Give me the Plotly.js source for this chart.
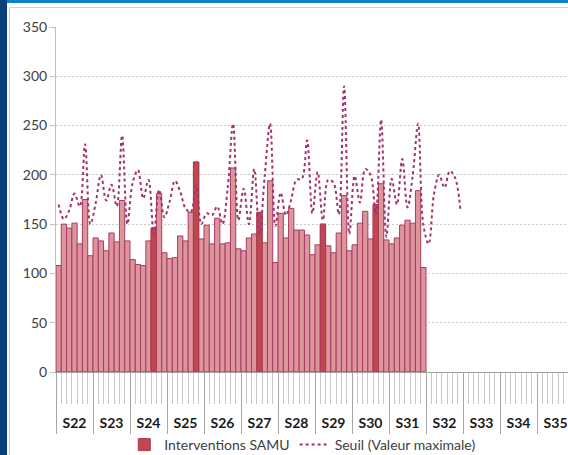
<!DOCTYPE html>
<html>
<head>
<meta charset="utf-8">
<script src="https://cdn.plot.ly/plotly-3.0.1.min.js"></script>
<style>
  body { margin: 0; background: #ffffff; }
  #cadre { position: relative; width: 568px; height: 455px; overflow: hidden; background: #ffffff; }
  #bandeGauche { position: absolute; left: 0; top: 0; width: 7px; height: 455px; background: #0b3f7c; }
  #bandeHaut { position: absolute; left: 7px; top: 0; width: 561px; height: 3px; background: #0a84c9; }
  #bordV { position: absolute; left: 9px; top: 7px; width: 1px; height: 448px; background: #c9c9c9; }
  #bordH { position: absolute; left: 9px; top: 7px; width: 559px; height: 1px; background: #d0d0d0; }
  #graphique { position: absolute; left: 0; top: 0; width: 568px; height: 455px; }
</style>
</head>
<body>
<div id="cadre">
  <div id="bandeGauche"></div>
  <div id="bandeHaut"></div>
  <div id="bordV"></div>
  <div id="bordH"></div>
  <div id="graphique"></div>
</div>
<script>
// semaines affichées sur l'axe (7 jours chacune)
const semaines = ['S22', 'S23', 'S24', 'S25', 'S26', 'S27', 'S28', 'S29', 'S30', 'S31', 'S32', 'S33', 'S34', 'S35'];

// interventions SAMU par jour, S22 à S31
const interventions = [
    108, 150, 146, 151, 130, 175, 118,
    136, 133, 123, 141, 132, 174, 133,
    114, 109, 108, 133, 146, 181, 121,
    115, 116, 138, 133, 162, 213, 135,
    149, 130, 156, 130, 131, 207, 125,
    123, 136, 140, 162, 131, 194, 111,
    161, 136, 166, 144, 144, 139, 119,
    129, 150, 128, 121, 141, 179, 123,
    129, 151, 163, 135, 170, 191, 134,
    130, 136, 149, 154, 151, 184, 106
];

// jours mis en évidence (numéro du jour, 1 = premier jour de S22)
const joursAlerte = [19, 27, 39, 51, 61];

// seuil (valeur maximale) par jour, S22 à S32
const seuil = [
    170, 155, 164, 181, 168, 231, 150,
    171, 200, 174, 190, 168, 240, 150,
    192, 205, 176, 195, 140, 185, 157,
    173, 194, 183, 166, 162, 189, 150,
    161, 159, 168, 150, 188, 252, 154,
    186, 150, 206, 140, 200, 252, 148,
    182, 159, 175, 195, 196, 235, 161,
    203, 154, 195, 192, 160, 290, 140,
    199, 172, 206, 200, 160, 256, 137,
    196, 170, 216, 167, 200, 252, 149,
    130, 180, 200, 187, 204, 197, 165
];

const joursBarres = interventions.map((v, i) => i);
const joursSeuil = seuil.map((v, i) => i);
const centresSemaines = semaines.map((s, i) => i * 7 + 3);

const barresClaires = {
    x: joursBarres,
    y: interventions,
    type: 'bar',
    showlegend: false,
    hoverinfo: 'skip',
    marker: { color: '#dc969b', line: { color: '#a83a63', width: 1 } }
};

const barresFoncees = {
    x: joursBarres,
    y: interventions.map((v, i) => joursAlerte.includes(i + 1) ? v : null),
    type: 'bar',
    name: 'Interventions SAMU',
    marker: { color: '#c0474e', line: { color: '#a83a55', width: 1 } }
};

// le seuil est porté par l'axe x2 (même échelle) pour afficher les libellés de semaines
const ligneSeuil = {
    x: joursSeuil,
    y: seuil,
    xaxis: 'x2',
    type: 'scatter',
    mode: 'lines',
    name: 'Seuil (Valeur maximale)',
    line: { color: '#a3336b', width: 2, dash: '3px,3px', shape: 'spline', smoothing: 1 }
};

const police = 'Lato, "Open Sans", sans-serif';
const finAxe = -0.5 + 512 / 5.286;

const layout = {
    width: 568,
    height: 455,
    margin: { l: 56, r: 0, t: 27, b: 83 },
    paper_bgcolor: 'rgba(0,0,0,0)',
    plot_bgcolor: 'rgba(0,0,0,0)',
    barmode: 'overlay',
    bargap: 0,
    font: { family: police, size: 14, color: '#404040' },
    xaxis: {
        range: [-0.5, finAxe],
        tickmode: 'linear',
        tick0: -0.5,
        dtick: 7,
        ticks: 'outside',
        ticklen: 61,
        tickcolor: '#a6a6a6',
        tickwidth: 1,
        showticklabels: false,
        showgrid: false,
        zeroline: false,
        showline: true,
        linecolor: '#a0a0a0',
        linewidth: 1,
        automargin: false,
        minor: { tick0: -0.5, dtick: 1, ticks: 'outside', ticklen: 31, tickcolor: '#c8c8c8', tickwidth: 1 }
    },
    xaxis2: {
        overlaying: 'x',
        anchor: 'y',
        side: 'bottom',
        range: [-0.5, finAxe],
        tickmode: 'array',
        tickvals: centresSemaines,
        ticktext: semaines,
        ticks: 'outside',
        ticklen: 38,
        tickcolor: 'rgba(0,0,0,0)',
        tickfont: { family: police, size: 14, color: '#1a1a1a', weight: 'bold' },
        showgrid: false,
        zeroline: false,
        showline: false,
        automargin: false
    },
    yaxis: {
        range: [0, 350],
        dtick: 50,
        ticks: 'outside',
        ticklen: 5,
        tickcolor: '#bfbfbf',
        tickfont: { family: police, size: 14, color: '#404040' },
        showgrid: true,
        gridcolor: '#c8c8c8',
        griddash: '2px,2px',
        gridwidth: 1,
        zeroline: false,
        showline: true,
        linecolor: '#bfbfbf',
        automargin: false
    },
    legend: {
        orientation: 'h',
        x: 0.482,
        xanchor: 'center',
        yref: 'container',
        y: 0.022,
        yanchor: 'middle',
        font: { family: police, size: 14, color: '#404040' },
        bgcolor: 'rgba(0,0,0,0)'
    }
};

Plotly.newPlot('graphique', [barresClaires, barresFoncees, ligneSeuil], layout, { staticPlot: true });
</script>
</body>
</html>
